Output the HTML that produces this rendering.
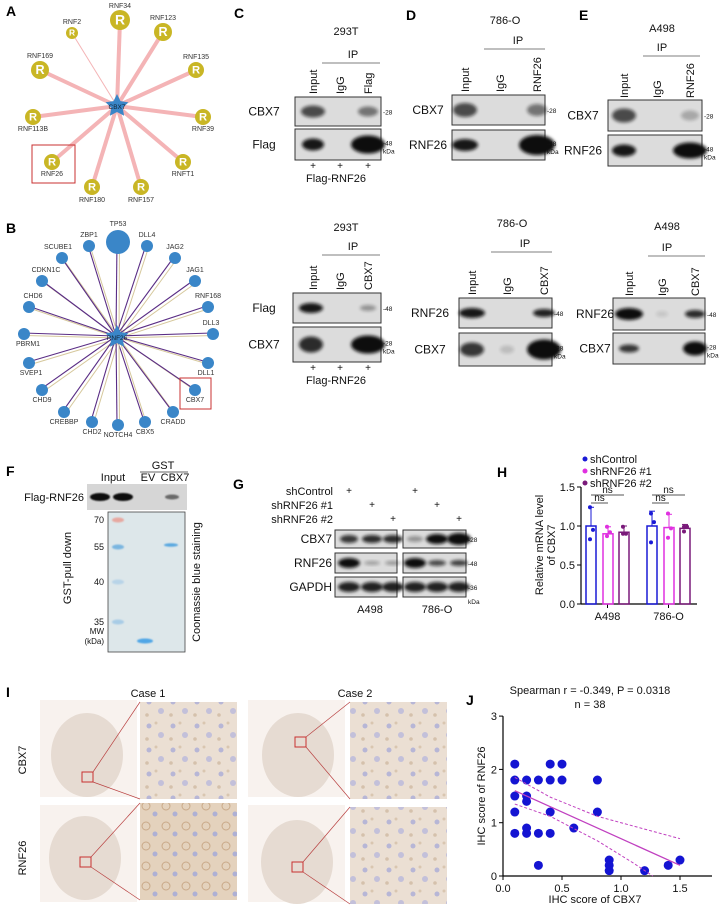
<!DOCTYPE html>
<html><head><meta charset="utf-8"><style>
html,body{margin:0;padding:0;background:#fff}
svg{display:block;font-family:"Liberation Sans",sans-serif}
</style></head><body>
<svg id="fig" width="722" height="912" viewBox="0 0 722 912" xmlns="http://www.w3.org/2000/svg">
<defs>
<filter id="blur" x="-50%" y="-50%" width="200%" height="200%"><feGaussianBlur stdDeviation="1.6"/></filter>
<filter id="blur2" x="-50%" y="-50%" width="200%" height="200%"><feGaussianBlur stdDeviation="0.8"/></filter>
<pattern id="tissue" width="24" height="24" patternUnits="userSpaceOnUse">
<rect width="24" height="24" fill="#ebdfd3"/>
<circle cx="5" cy="6" r="2.5" fill="#b7b6d6"/><circle cx="17" cy="15" r="3" fill="#c3c0da"/>
<circle cx="12" cy="3" r="1.5" fill="#d9c6b0"/><circle cx="3" cy="19" r="1.8" fill="#d5c1ac"/>
</pattern>
<pattern id="tissue2" width="20" height="20" patternUnits="userSpaceOnUse">
<rect width="20" height="20" fill="#e4d2bd"/>
<circle cx="6" cy="6" r="4" fill="none" stroke="#c9a988" stroke-width="1"/><circle cx="15" cy="14" r="2.5" fill="#aeb0d4"/>
</pattern>
</defs>
<g id="labels" font-weight="bold" font-size="14">
<text x="6" y="16">A</text>
<text x="6" y="233">B</text>
<text x="234" y="18">C</text>
<text x="406" y="20">D</text>
<text x="579" y="20">E</text>
<text x="6" y="476">F</text>
<text x="233" y="489">G</text>
<text x="497" y="477">H</text>
<text x="6" y="697">I</text>
<text x="466" y="705">J</text>
</g>
<g id="netA"></g>
<g id="netB"></g>
<g id="blots"></g>
<g id="panelF"></g>
<g id="panelI"></g>
<g id="chartH"></g>
<g id="chartJ"></g>
</svg>
<script>
// ---- Chart H data ----
var hGroups = ['A498', '786-O'];
var hSeries = ['shControl', 'shRNF26 #1', 'shRNF26 #2'];
var hMeans = [[1.0, 0.90, 0.92], [1.0, 0.98, 0.97]];
var hErr = [[0.24, 0.09, 0.08], [0.19, 0.17, 0.05]];
var hPoints = [[[1.24, 0.95, 0.83], [0.99, 0.92, 0.87], [0.99, 0.90, 0.90]],
               [[1.16, 1.05, 0.79], [1.16, 0.97, 0.85], [0.99, 0.99, 0.93]]];
var hTicks = ['0.0', '0.5', '1.0', '1.5'];
var hTickVals = [0, 0.5, 1.0, 1.5];
// ---- Chart J data ----
var jCbx = [0.1,0.1,0.1,0.1,0.1,0.2,0.2,0.2,0.2,0.2,0.3,0.3,0.3,0.4,0.4,0.4,0.4,0.5,0.5,0.6,0.8,0.8,0.9,0.9,0.9,1.2,1.4,1.5];
var jRnf = [2.1,1.8,1.5,1.2,0.8,1.8,1.5,1.4,0.9,0.8,1.8,0.8,0.2,2.1,1.8,1.2,0.8,2.1,1.8,0.9,1.8,1.2,0.3,0.2,0.1,0.1,0.2,0.3];
var jFitX = [0.1, 1.5];
var jFitY = [1.6, 0.2];
var jUpX = [0.1, 0.4, 0.8, 1.2, 1.5];
var jUpY = [1.85, 1.48, 1.12, 0.88, 0.70];
var jLoX = [0.1, 0.4, 0.8, 1.1, 1.27];
var jLoY = [1.35, 1.12, 0.66, 0.25, 0.0];
var jXTicks = ['0.0', '0.5', '1.0', '1.5'];
var jXTickVals = [0, 0.5, 1.0, 1.5];
var jYTicks = ['0', '1', '2', '3'];
var jYTickVals = [0, 1, 2, 3];

var NS = 'http://www.w3.org/2000/svg';
function mk(parent, tag, attrs, txt) {
  var e = document.createElementNS(NS, tag);
  for (var k in attrs) e.setAttribute(k, attrs[k]);
  if (txt !== undefined) e.textContent = txt;
  parent.appendChild(e);
  return e;
}
function starPts(cx, cy, R, r) {
  var p = [];
  for (var i = 0; i < 10; i++) {
    var a = -Math.PI / 2 + i * Math.PI / 5, rr = i % 2 ? r : R;
    p.push((cx + rr * Math.cos(a)).toFixed(1) + ',' + (cy + rr * Math.sin(a)).toFixed(1));
  }
  return p.join(' ');
}

// ---- Network A ----
var gA = document.getElementById('netA');
var aNodes = [['RNF34',120,20,10,0,-12],['RNF2',72,33,6,0,-9],['RNF123',163,32,9,0,-12],['RNF169',40,70,9,0,-12],
  ['RNF135',196,70,8,0,-11],['RNF113B',33,117,8,0,14],['RNF39',203,117,8,0,14],['RNF26',52,162,8,0,14],
  ['RNFT1',183,162,8,0,14],['RNF180',92,187,8,0,15],['RNF157',141,187,8,0,15]];
aNodes.forEach(function(n){
  var l = mk(gA,'line',{x1:117,y1:106,x2:n[1],y2:n[2],stroke:'#f4b4b6','stroke-width':n[0]==='RNF2'?1:4});
  
  
});
aNodes.forEach(function(n){
  var c = mk(gA,'circle',{cx:n[1],cy:n[2],r:n[3],fill:'#c9b625'});
  
  
  mk(gA,'text',{x:n[1],y:n[2]+n[3]*0.45,'text-anchor':'middle','font-size':n[3]*1.4,'font-weight':'bold',fill:'#fff'},'R');
  var t = mk(gA,'text',{x:n[1]+n[4],y:n[2]+n[5],'text-anchor':'middle','font-size':7,fill:'#333'},n[0]);
  
  
});
var sA = mk(gA,'polygon',{points:starPts(117,106,12,6),fill:'#3a86c8'});


mk(gA,'text',{x:117,y:109,'text-anchor':'middle','font-size':6.5,fill:'#123'},'CBX7');
mk(gA,'rect',{x:32,y:145,width:43,height:38,fill:'none',stroke:'#c83030','stroke-width':1});

// ---- Network B ----
var gB = document.getElementById('netB');
var bNodes = [['TP53',118,242,12,0,-16],['ZBP1',89,246,6,0,-9],['DLL4',147,246,6,0,-9],['SCUBE1',62,258,6,-4,-9],
 ['JAG2',175,258,6,0,-9],['CDKN1C',42,281,6,4,-9],['JAG1',195,281,6,0,-9],['CHD6',29,307,6,4,-9],
 ['RNF168',208,307,6,0,-9],['PBRM1',24,334,6,4,12],['DLL3',213,334,6,-2,-9],['SVEP1',29,363,6,2,12],
 ['DLL1',208,363,6,-2,12],['CHD9',42,390,6,0,12],['CBX7',195,390,6,0,12],['CREBBP',64,412,6,0,12],
 ['CRADD',173,412,6,0,12],['CHD2',92,422,6,0,12],['CBX5',145,422,6,0,12],['NOTCH4',118,425,6,0,12]];
bNodes.forEach(function(n){
  var l1 = mk(gB,'line',{x1:119,y1:338,x2:n[1]+1.5,y2:n[2]+1.5,stroke:'#d6c89c','stroke-width':1});
  
  
  var l2 = mk(gB,'line',{x1:116,y1:336,x2:n[1]-1,y2:n[2]-1,stroke:'#5a2d85','stroke-width':1.1});
  
  
});
bNodes.forEach(function(n){
  var c = mk(gB,'circle',{cx:n[1],cy:n[2],r:n[3],fill:'#3a86c8'});
  
  
  var t = mk(gB,'text',{x:n[1]+n[4],y:n[2]+n[5],'text-anchor':'middle','font-size':7,fill:'#333'},n[0]);
  
  
});
var sB = mk(gB,'polygon',{points:starPts(117,337,12,6),fill:'#3a86c8'});


mk(gB,'text',{x:117,y:340,'text-anchor':'middle','font-size':6.5,fill:'#123'},'RNF26');
mk(gB,'rect',{x:180,y:378,width:31,height:31,fill:'none',stroke:'#c83030','stroke-width':1});

// ---- Blots ----
var gBl = document.getElementById('blots');
function blot(x,y,w,h,bands){
  var r = mk(gBl,'rect',{x:x,y:y,width:w,height:h,fill:'#dcdcdc',stroke:'#333','stroke-width':1});
  
  
  bands.forEach(function(b){
    mk(gBl,'ellipse',{cx:b[0],cy:y+h/2,rx:b[1],ry:b[2],fill:'#111',opacity:b[3],filter:'url(#blur)'});
  });
}
function txt(g,x,y,s,size,anchor,extra){
  var a = {x:x,y:y,'font-size':size,'text-anchor':anchor||'start',fill:'#111'};
  for (var k in extra||{}) a[k]=extra[k];
  return mk(g,'text',a,s);
}
function vlab(x,y,s){ txt(gBl,0,0,s,11,'start',{transform:'translate('+(x+4)+','+y+') rotate(-90)'}); }
function ipPanel(cfg){
  var o = cfg.oy, d = cfg.dx || 0;
  txt(gBl,cfg.tx+d,cfg.ty+o,cfg.title,11,'middle');
  txt(gBl,cfg.ipx+d,cfg.ipy+o,'IP',11,'middle');
  mk(gBl,'line',{x1:cfg.l1+d,y1:cfg.ipy+5+o,x2:cfg.l2+d,y2:cfg.ipy+5+o,stroke:'#555','stroke-width':0.8});
  for (var i=0;i<3;i++) vlab(cfg.lanes[i]+d,cfg.lb+o,cfg.lnames[i]);
  blot(cfg.bx+d,cfg.b1y+o,cfg.bw,cfg.bh,cfg.bands1.map(function(b){return [b[0]+d,b[1],b[2],b[3]];}));
  blot(cfg.bx+d,cfg.b2y+o,cfg.bw,cfg.bh2,cfg.bands2.map(function(b){return [b[0]+d,b[1],b[2],b[3]];}));
  txt(gBl,cfg.labx,cfg.b1y+o+cfg.bh/2+4,cfg.n1,12,'middle');
  txt(gBl,cfg.labx,cfg.b2y+o+cfg.bh2/2+4,cfg.n2,12,'middle');
  txt(gBl,cfg.bx+d+cfg.bw+2,cfg.b1y+o+cfg.bh/2+3,cfg.m1,6.5);
  txt(gBl,cfg.bx+d+cfg.bw+2,cfg.b2y+o+cfg.bh2/2+1,cfg.m2,6.5);
  txt(gBl,cfg.bx+d+cfg.bw+2,cfg.b2y+o+cfg.bh2/2+9,'kDa',6.5);
  if (cfg.plus){
    for (var j=0;j<3;j++) txt(gBl,cfg.lanes[j],cfg.b2y+o+cfg.bh2+9,'+',10,'middle');
    txt(gBl,336,cfg.b2y+o+cfg.bh2+22,'Flag-RNF26',11,'middle');
  }
}
ipPanel({oy:0,title:'293T',tx:346,ty:35,ipx:353,ipy:58,l1:322,l2:380,lanes:[313,340,368],lb:94,lnames:['Input','IgG','Flag'],
 bx:295,b1y:97,b2y:129,bw:86,bh:29,bh2:31,bands1:[[313,12,6,.7],[368,10,5,.5]],bands2:[[313,11,6,.95],[368,17,9,1]],
 labx:264,n1:'CBX7',n2:'Flag',m1:'-28',m2:'-48',plus:true});
ipPanel({oy:0,title:'786-O',tx:505,ty:24,ipx:518,ipy:44,l1:484,l2:545,lanes:[465,500,537],lb:92,lnames:['Input','IgG','RNF26'],
 bx:452,b1y:95,b2y:130,bw:93,bh:30,bh2:30,bands1:[[465,12,7,.7],[537,10,6,.5]],bands2:[[465,13,6,.95],[537,18,10,1]],
 labx:428,n1:'CBX7',n2:'RNF26',m1:'-28',m2:'-48'});
ipPanel({oy:0,title:'A498',tx:662,ty:32,ipx:662,ipy:51,l1:643,l2:700,lanes:[624,657,690],lb:98,lnames:['Input','IgG','RNF26'],
 bx:608,b1y:100,b2y:135,bw:94,bh:31,bh2:31,bands1:[[624,12,7,.7],[690,9,5,.25]],bands2:[[624,12,6,.95],[690,17,8,1]],
 labx:583,n1:'CBX7',n2:'RNF26',m1:'-28',m2:'-48'});
ipPanel({oy:196,title:'293T',tx:346,ty:35,ipx:353,ipy:54,l1:322,l2:380,lanes:[313,340,368],lb:94,lnames:['Input','IgG','CBX7'],
 bx:293,b1y:97,b2y:131,bw:88,bh:30,bh2:35,bands1:[[311,12,5,.95],[368,8,3,.35]],bands2:[[311,12,8,.85],[368,17,9,1]],
 labx:264,n1:'Flag',n2:'CBX7',m1:'-48',m2:'-28',plus:true});
ipPanel({oy:203,dx:7,title:'786-O',tx:505,ty:24,ipx:518,ipy:44,l1:484,l2:545,lanes:[465,500,537],lb:92,lnames:['Input','IgG','CBX7'],
 bx:452,b1y:95,b2y:130,bw:93,bh:30,bh2:33,bands1:[[465,13,5,.95],[537,11,4,.9]],bands2:[[465,12,7,.8],[500,7,4,.15],[537,17,10,1]],
 labx:430,n1:'RNF26',n2:'CBX7',m1:'-48',m2:'-28'});
ipPanel({oy:198,dx:5,title:'A498',tx:662,ty:32,ipx:662,ipy:53,l1:643,l2:700,lanes:[624,657,690],lb:98,lnames:['Input','IgG','CBX7'],
 bx:608,b1y:100,b2y:135,bw:92,bh:32,bh2:31,bands1:[[624,14,6,1],[657,6,3,.1],[690,10,4,.85]],bands2:[[624,10,4,.8],[690,12,7,1]],
 labx:595,n1:'RNF26',n2:'CBX7',m1:'-48',m2:'-28'});

// ---- Panel G ----
txt(gBl,333,495,'shControl',11,'end');
txt(gBl,333,509,'shRNF26 #1',11,'end');
txt(gBl,333,523,'shRNF26 #2',11,'end');
var gl = [349,372,393,415,437,459];
[[0,3],[1,4],[2,5]].forEach(function(p,i){ txt(gBl,gl[p[0]],494+i*14,'+',10,'middle'); txt(gBl,gl[p[1]],494+i*14,'+',10,'middle'); });
var gRows = [['CBX7',530,18,[[349,9,4,.8],[372,10,4,.85],[393,10,4,.85],[415,8,3,.35],[437,11,5,1],[459,12,6,1]],'-28'],
             ['RNF26',553,20,[[349,11,5,1],[372,8,2,.3],[393,8,2,.35],[415,11,5,1],[437,9,3,.7],[459,9,3,.75]],'-48'],
             ['GAPDH',577,20,[[349,11,5,.9],[372,11,5,.9],[393,11,5,.9],[415,11,5,.9],[437,11,5,.9],[459,11,5,.9]],'-36']];
gRows.forEach(function(r){
  blot(335,r[1],62,r[2],r[3].slice(0,3));
  blot(403,r[1],63,r[2],r[3].slice(3));
  txt(gBl,332,r[1]+r[2]/2+4,r[0],12,'end');
  txt(gBl,468,r[1]+r[2]/2+3,r[4],6.5);
});
txt(gBl,468,604,'kDa',6.5);
txt(gBl,370,613,'A498',11,'middle');
txt(gBl,437,613,'786-O',11,'middle');

// ---- Panel F ----
var gF = document.getElementById('panelF');
txt(gF,113,481,'Input',11,'middle');
txt(gF,163,469,'GST',11,'middle');
mk(gF,'line',{x1:140,y1:472,x2:188,y2:472,stroke:'#333','stroke-width':0.8});
txt(gF,148,481,'EV',11,'middle');
txt(gF,175,481,'CBX7',11,'middle');
var fb = mk(gF,'rect',{x:87,y:484,width:100,height:26,fill:'#d6d6d6'});


mk(gF,'ellipse',{cx:100,cy:497,rx:10,ry:4,fill:'#111',filter:'url(#blur2)'});
mk(gF,'ellipse',{cx:123,cy:497,rx:10,ry:4,fill:'#111',filter:'url(#blur2)'});
mk(gF,'ellipse',{cx:172,cy:497,rx:7,ry:2.5,fill:'#222',opacity:.6,filter:'url(#blur2)'});
txt(gF,84,501,'Flag-RNF26',11,'end');
var gel = mk(gF,'rect',{x:108,y:512,width:77,height:140,fill:'#dde7ea',stroke:'#444','stroke-width':0.8});


[[520,'#e7a8a0'],[547,'#7ab6e0'],[582,'#b8d4e8'],[622,'#a8cce6']].forEach(function(b){ mk(gF,'ellipse',{cx:118,cy:b[0],rx:6,ry:2.5,fill:b[1],filter:'url(#blur2)'}); });
mk(gF,'ellipse',{cx:171,cy:545,rx:7,ry:1.8,fill:'#5aa8e0',filter:'url(#blur2)'});
mk(gF,'ellipse',{cx:145,cy:641,rx:8,ry:2.5,fill:'#50a6e6',filter:'url(#blur2)'});
[['70',523],['55',550],['40',585],['35',625]].forEach(function(m){ txt(gF,104,m[1],m[0],9,'end'); });
txt(gF,104,634,'MW',8,'end'); txt(gF,104,644,'(kDa)',8,'end');
txt(gF,0,0,'GST-pull down',11,'middle',{transform:'translate(71,568) rotate(-90)'});
txt(gF,0,0,'Coomassie blue staining',11,'middle',{transform:'translate(200,582) rotate(-90)'});

// ---- Panel I ----
var gI = document.getElementById('panelI');
txt(gI,148,697,'Case 1',11,'middle');
txt(gI,355,697,'Case 2',11,'middle');
txt(gI,0,0,'CBX7',11,'middle',{transform:'translate(26,760) rotate(-90)'});
txt(gI,0,0,'RNF26',11,'middle',{transform:'translate(26,858) rotate(-90)'});
var cores = [[40,700,87,755,'url(#tissue)',140,702,82,772],[248,700,298,755,'url(#tissue)',350,702,295,737],
             [40,805,85,858,'url(#tissue2)',140,803,80,857],[248,805,297,862,'url(#tissue)',350,807,292,862]];
cores.forEach(function(c){
  mk(gI,'rect',{x:c[0],y:c[1],width:97,height:97,fill:'#f8f2ee'});
  var ci = mk(gI,'ellipse',{cx:c[2],cy:c[3],rx:36,ry:42,fill:'#e6dbd2'});
  
  
  var d = mk(gI,'rect',{x:c[5],y:c[6],width:97,height:97,fill:c[4]});
  
  
  mk(gI,'rect',{x:c[7],y:c[8],width:11,height:10,fill:'none',stroke:'#c83030','stroke-width':1});
  mk(gI,'line',{x1:c[7]+11,y1:c[8],x2:c[5],y2:c[6],stroke:'#b84040','stroke-width':0.7});
  mk(gI,'line',{x1:c[7]+11,y1:c[8]+10,x2:c[5],y2:c[6]+97,stroke:'#b84040','stroke-width':0.7});
});

// ---- Chart H ----
var gH = document.getElementById('chartH');
var hX0 = 581, hX1 = 697, hY0 = 604, hYTop = 487;
function hy(v){ return hY0 - (v/1.5)*(hY0-hYTop); }
var hCenters = [[591,608,624],[652,669,685]];
var hColors = ['#1a1ad6','#e030e0','#7a1a7a'];
mk(gH,'line',{x1:hX0,y1:hYTop,x2:hX0,y2:hY0,stroke:'#000','stroke-width':1.2});
mk(gH,'line',{x1:hX0,y1:hY0,x2:hX1,y2:hY0,stroke:'#000','stroke-width':1.2});
hTickVals.forEach(function(v,i){
  mk(gH,'line',{x1:hX0-4,y1:hy(v),x2:hX0,y2:hy(v),stroke:'#000'});
  txt(gH,hX0-6,hy(v)+4,hTicks[i],11,'end');
});
hGroups.forEach(function(g,gi){
  var cx = (hCenters[gi][0]+hCenters[gi][2])/2;
  mk(gH,'line',{x1:cx,y1:hY0,x2:cx,y2:hY0+4,stroke:'#000'});
  txt(gH,cx,hY0+16,g,11,'middle');
  hSeries.forEach(function(s,si){
    var x = hCenters[gi][si], col = hColors[si], m = hMeans[gi][si];
    var bar = mk(gH,'rect',{x:x-5,y:hy(m),width:10,height:hY0-hy(m),fill:'none',stroke:col,'stroke-width':1.5});
    
    
    mk(gH,'line',{x1:x,y1:hy(m),x2:x,y2:hy(m+hErr[gi][si]),stroke:col,'stroke-width':1});
    mk(gH,'line',{x1:x-3,y1:hy(m+hErr[gi][si]),x2:x+3,y2:hy(m+hErr[gi][si]),stroke:col,'stroke-width':1});
    hPoints[gi][si].forEach(function(p,pi){
      var pt = mk(gH,'circle',{cx:x+(pi===1?2:-1),cy:hy(p),r:2,fill:col});
      
      
    });
  });
  var c = hCenters[gi];
  mk(gH,'line',{x1:c[0],y1:495,x2:c[2],y2:495,stroke:'#555'});
  txt(gH,(c[0]+c[2])/2,493,'ns',10,'middle');
  mk(gH,'line',{x1:c[0],y1:503,x2:c[1],y2:503,stroke:'#555'});
  txt(gH,(c[0]+c[1])/2,501,'ns',10,'middle');
});
hSeries.forEach(function(s,si){
  var lc = mk(gH,'circle',{cx:585,cy:459+si*12,r:2.5,fill:hColors[si]});
  
  
  var lt = txt(gH,590,463+si*12,s,11,'start',{fill:'#111'});
  
  
});
txt(gH,0,0,'Relative mRNA level',11,'middle',{transform:'translate(543,545) rotate(-90)'});
txt(gH,0,0,'of CBX7',11,'middle',{transform:'translate(555,545) rotate(-90)'});

// ---- Chart J ----
var gJ = document.getElementById('chartJ');
var jX0 = 503, jY0 = 876, jXs = 118, jYs = 53.3;
function jx(v){ return jX0 + v*jXs; }
function jy(v){ return jY0 - v*jYs; }
txt(gJ,590,694,'Spearman r = -0.349, P = 0.0318',11,'middle');
txt(gJ,590,708,'n = 38',11,'middle');
mk(gJ,'line',{x1:jX0,y1:jy(3),x2:jX0,y2:jY0,stroke:'#000','stroke-width':1.2});
mk(gJ,'line',{x1:jX0,y1:jY0,x2:712,y2:jY0,stroke:'#000','stroke-width':1.2});
jYTickVals.forEach(function(v,i){
  mk(gJ,'line',{x1:jX0-4,y1:jy(v),x2:jX0,y2:jy(v),stroke:'#000'});
  txt(gJ,jX0-6,jy(v)+4,jYTicks[i],11,'end');
});
jXTickVals.forEach(function(v,i){
  mk(gJ,'line',{x1:jx(v),y1:jY0,x2:jx(v),y2:jY0+4,stroke:'#000'});
  txt(gJ,jx(v),jY0+16,jXTicks[i],11,'middle');
});
txt(gJ,595,903,'IHC score of CBX7',11,'middle');
txt(gJ,0,0,'IHC score of RNF26',11,'middle',{transform:'translate(485,796) rotate(-90)'});
jCbx.forEach(function(v,i){
  var d = mk(gJ,'circle',{cx:jx(v),cy:jy(jRnf[i]),r:4.5,fill:'#1414d2'});
  
  
});
function poly(xs,ys,dash,w){
  var pts = xs.map(function(x,i){ return jx(x)+','+jy(ys[i]); }).join(' ');
  var a = {points:pts,fill:'none',stroke:'#c040c0','stroke-width':w};
  if (dash) a['stroke-dasharray'] = '3,2';
  return mk(gJ,'polyline',a);
}
var fit = poly(jFitX,jFitY,false,1.3);


var up = poly(jUpX,jUpY,true,1);


var lo = poly(jLoX,jLoY,true,1);


</script>
</body></html>
